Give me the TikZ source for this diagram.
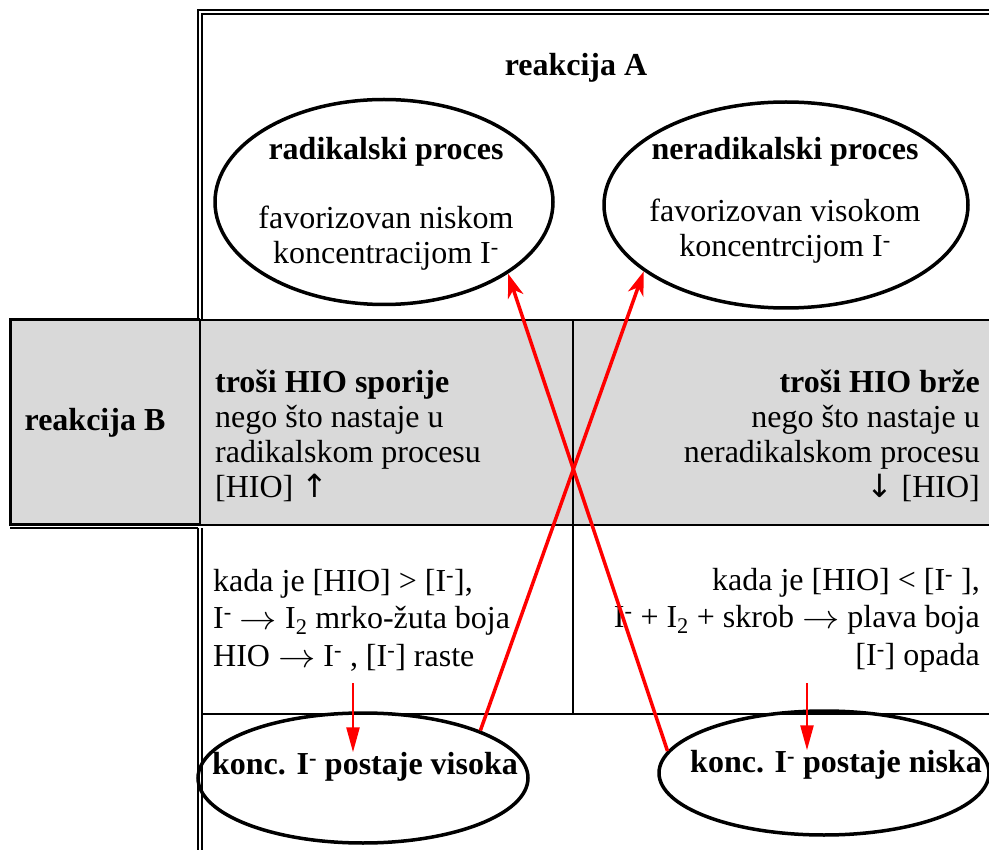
\documentclass[tikz,border=0pt]{standalone}
\usepackage{graphicx}
\usepackage{fontspec}
\setmainfont{Liberation Serif}
\newfontfamily\arrowfont{DejaVu Sans}
\usetikzlibrary{arrows.meta, positioning, shapes.geometric, calc}
\definecolor{cellgray}{HTML}{D9D9D9}
\definecolor{arrred}{HTML}{FF0000}
\newcommand{\regtext}{\fontsize{32}{35}\selectfont}
\newcommand{\midtext}{\fontsize{32}{37.5}\selectfont}
\newcommand{\boldtext}{\fontsize{32}{35}\selectfont\bfseries}
\newcommand{\iodid}{I\textsuperscript{-}}
\newcommand{\reacto}{\raisebox{-1pt}{\scalebox{1.5}[1.35]{$\rightarrow$}}}

\begin{document}
\begin{tikzpicture}[x=1pt, y=-1pt,
  every node/.style={inner sep=0pt},
  oval/.style={ellipse, draw=black, line width=3.5pt},
  ovaltxt/.style={align=center, font=\regtext},
  tline/.style={black, line width=1.6pt},
  boldline/.style={black, line width=3pt},
  lefttxt/.style={anchor=west, align=left, font=\regtext},
  righttxt/.style={anchor=east, align=right, font=\regtext},
  headtxt/.style={font=\boldtext},
  redarrow/.style={arrred, line width=3.5pt, -{Stealth[length=24pt, width=16pt, inset=7pt]}},
  downarrow/.style={arrred, line width=2.5pt, -{Triangle[length=25pt, width=13pt]}},
]
\useasboundingbox (0,0) rectangle (989,850);

% Gray row (reakcija B)
\fill[cellgray] (10,320) rectangle (989,525);

% Table rules
\draw[tline] (989,10) -- (198,10) -- (198,320);
\draw[tline] (989,14) -- (202,14) -- (202,320);
\draw[tline] (198,528) -- (198,850);
\draw[tline] (202,528) -- (202,850);
\draw[boldline] (200,320) -- (10,320) -- (10,524) -- (200,524);
\draw[tline] (10,528) -- (198,528);
\draw[tline] (200,320) -- (989,320);
\draw[tline] (200,320) -- (200,525);
\draw[tline] (200,525) -- (989,525);
\draw[tline] (573,320) -- (573,714);
\draw[tline] (202,714) -- (989,714);

% Reakcija A
\node[headtxt] (reakA) at (576,68) {reakcija A};
\node[oval, minimum width=338pt, minimum height=205pt] (rad) at (384,202) {};
\node[ovaltxt] (radtxt) at (386,204)
  {{\boldtext radikalski proces}\\[34pt]favorizovan niskom\\koncentracijom \iodid};
\node[oval, minimum width=364pt, minimum height=206pt] (nerad) at (786,205) {};
\node[ovaltxt] (neradtxt) at (785,200)
  {{\boldtext neradikalski proces}\\[27pt]favorizovan visokom\\koncentrcijom \iodid};

% Reakcija B
\node[headtxt] (reakB) at (95,423) {reakcija B};
\node[lefttxt] (sporije) at (215,436)
  {{\boldtext troši HIO sporije}\\nego što nastaje u\\radikalskom procesu\\{[HIO]}~{\arrowfont ↑}};
\node[righttxt] (brze) at (980,436)
  {{\boldtext troši HIO brže}\\nego što nastaje u\\neradikalskom procesu\\{\arrowfont ↓}~[HIO]};

% Colour of the solution
\node[lefttxt, font=\midtext] (raste) at (213,620)
  {kada je [HIO] > [\iodid],\\\iodid{} \reacto{} I\textsubscript{2} mrko-žuta boja\\HIO \reacto{} \iodid{} , [\iodid] raste};
\node[righttxt, font=\midtext] (opada) at (980,620)
  {kada je [HIO] < [\iodid{} ],\\\iodid{} + I\textsubscript{2} + skrob \reacto{} plava boja\\{}[\iodid] opada};

% Iodide concentration
\node[oval, minimum width=330pt, minimum height=130pt] (visoka) at (363,778) {};
\node[headtxt] (visokatxt) at (365,767) {konc. \iodid{} postaje visoka};
\node[oval, minimum width=330pt, minimum height=124pt] (niska) at (824,773) {};
\node[headtxt] (niskatxt) at (836,765) {konc. \iodid{} postaje niska};

% Arrows
\coordinate (rastearr) at (353,683);
\coordinate (opadaarr) at (807,683);
\draw[downarrow] (rastearr) -- (rastearr |- visokatxt.north);
\draw[downarrow] (opadaarr) -- (opadaarr |- niskatxt.north);
\draw[redarrow] (visoka.22) -- (nerad.205);
\draw[redarrow] (niska.172) -- (rad.330);

\end{tikzpicture}
\end{document}
